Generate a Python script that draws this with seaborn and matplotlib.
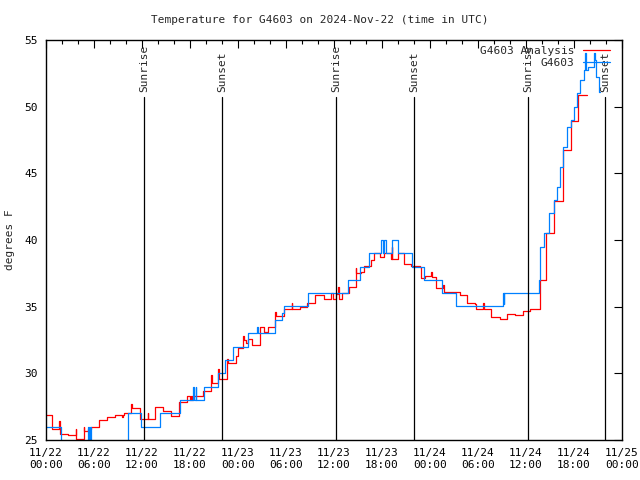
import pandas as pd
import matplotlib
matplotlib.use('Agg')
import matplotlib.pyplot as plt
import matplotlib.dates as mdates
import seaborn as sns

# Start of the period (UTC)
start = pd.Timestamp('2024-11-22 00:00')

# Analysis series: hours after start, temperature (deg F)
analysis_hours = [0.0, 0.75, 1.6, 1.7, 1.75, 2.75, 3.7, 3.8, 4.7, 4.8, 5.3, 5.6, 6.1,
                  6.67, 7.67, 8.67, 9.55, 9.65, 9.75, 10.65, 10.75, 11.75, 12.7, 12.8,
                  13.6, 14.67, 15.67, 16.67, 17.67, 18.0, 18.1, 18.3, 18.4, 19.67, 20.67,
                  20.75, 21.5, 21.6, 22.6, 22.7, 23.7, 24.0, 24.6, 24.7, 25.0, 25.3, 25.8,
                  26.7, 26.8, 27.3, 27.7, 28.6, 28.7, 29.7, 30.7, 30.8, 31.8, 32.6, 33.6,
                  34.8, 35.6, 35.9, 36.2, 36.5, 36.6, 37.0, 37.9, 38.7, 38.8, 39.4, 39.7,
                  40.6, 41.0, 41.7, 42.3, 43.1, 43.2, 43.3, 44.0, 44.7, 45.6, 46.75, 46.85,
                  47.4, 48.1, 48.2, 48.7, 49.6, 49.7, 51.75, 52.6, 53.6, 53.7, 54.6, 54.7,
                  55.6, 56.7, 57.6, 58.6, 59.6, 60.5, 61.7, 62.5, 63.5, 64.6, 65.6, 66.5,
                  67.6]
analysis_temps = [26.9, 25.8, 26.4, 25.8, 25.45, 25.35, 25.8, 25.05, 26.0, 25.65, 25.8,
                  26.0, 25.95, 26.47, 26.75, 26.85, 26.7, 26.85, 27.05, 27.7, 27.37, 26.6,
                  27.0, 26.6, 27.45, 27.2, 26.8, 27.85, 28.3, 28.0, 28.3, 28.0, 28.3, 28.65,
                  29.9, 29.3, 30.3, 29.55, 31.1, 30.75, 31.3, 31.9, 32.8, 32.5, 32.3, 32.6,
                  32.1, 33.5, 33.45, 33.1, 33.45, 34.6, 34.3, 34.8, 35.3, 34.8, 34.95, 35.3,
                  35.9, 35.55, 36.0, 35.55, 35.95, 36.5, 35.55, 36.0, 36.5, 37.9, 37.55,
                  37.6, 38.07, 38.5, 39.0, 38.75, 39.0, 38.6, 39.5, 38.6, 39.0, 38.17,
                  38.07, 38.0, 37.17, 37.3, 37.6, 37.2, 36.4, 36.6, 36.07, 35.9, 35.25,
                  35.2, 34.8, 35.3, 34.85, 34.25, 34.05, 34.45, 34.37, 34.7, 34.8, 37.0,
                  40.5, 42.9, 46.75, 48.95, 50.9, 50.9]

# Station observations: hours after start, temperature (deg F)
obs_hours = [0.0, 1.9, 5.25, 5.4, 5.5, 5.6, 10.25, 11.9, 14.2, 16.8, 18.4, 18.5, 18.7,
             18.8, 19.7, 21.5, 22.4, 23.4, 25.3, 26.4, 26.5, 28.6, 29.5, 29.7, 32.8,
             37.8, 39.2, 40.4, 41.9, 42.1, 42.3, 42.5, 43.2, 44.0, 45.7, 47.2, 49.5,
             51.25, 57.1, 57.2, 57.3, 61.6, 61.8, 62.2, 62.9, 63.5, 63.9, 64.3, 64.6,
             65.1, 65.6, 66.0, 66.4, 66.75, 67.2, 67.4, 67.5, 67.8, 68.55, 68.65,
             68.8, 69.1, 69.3]
obs_temps = [25.95, 24.5, 25.95, 24.5, 25.95, 24.5, 27.0, 25.95, 27.0, 28.0, 29.0,
             28.0, 29.0, 28.0, 28.95, 30.0, 31.0, 32.0, 33.0, 33.5, 33.0, 34.0, 34.5,
             35.05, 36.0, 37.0, 38.0, 39.0, 40.0, 39.0, 40.0, 39.0, 40.0, 39.0, 38.0,
             37.0, 36.0, 35.05, 36.0, 35.2, 36.0, 37.0, 39.5, 40.5, 42.0, 43.0, 44.0,
             45.5, 47.0, 48.5, 49.0, 50.0, 51.0, 52.0, 52.75, 54.0, 52.75, 53.0, 54.0,
             53.5, 52.25, 51.1, 51.1]

# Sunrise / sunset marks, hours after start
sun_hours = [12.25, 22.0, 36.25, 46.0, 60.25, 69.9]
sun_labels = ['Sunrise', 'Sunset', 'Sunrise', 'Sunset', 'Sunrise', 'Sunset']

analysis_df = pd.DataFrame({'time': start + pd.to_timedelta(analysis_hours, unit='h'),
                            'temp': analysis_temps})
obs_df = pd.DataFrame({'time': start + pd.to_timedelta(obs_hours, unit='h'),
                       'temp': obs_temps})

sns.set_style('white')
plt.rcParams['font.family'] = ['DejaVu Sans Mono']

fig = plt.figure(figsize=(6.4, 4.8), dpi=100)
ax = fig.add_axes([46 / 640, 40 / 480, 576 / 640, 400 / 480])

sns.lineplot(data=analysis_df, x='time', y='temp', ax=ax, color='#ff0000',
             drawstyle='steps-post', estimator=None, linewidth=0.9,
             label='G4603 Analysis')
sns.lineplot(data=obs_df, x='time', y='temp', ax=ax, color='#0080ff',
             drawstyle='steps-post', estimator=None, linewidth=0.9,
             label='G4603')

# sunrise / sunset lines with labels
for h, lab in zip(sun_hours, sun_labels):
    t = start + pd.Timedelta(hours=h)
    ax.axvline(t, ymin=0, ymax=0.857, color='black', linewidth=0.9)
    ax.text(t, 51.1, lab, rotation=90, ha='center', va='bottom', fontsize=8)

ax.set_xlim(start, start + pd.Timedelta(hours=72))
ax.set_ylim(25, 55)
ax.set_yticks([25, 30, 35, 40, 45, 50, 55])
ax.xaxis.set_major_locator(mdates.HourLocator(byhour=[0, 6, 12, 18]))
ax.xaxis.set_minor_locator(mdates.HourLocator(interval=2))
ax.xaxis.set_major_formatter(mdates.DateFormatter('%m/%d\n%H:%M'))
ax.tick_params(which='both', direction='in', top=True, right=True, labelsize=8,
               colors='black', width=0.8)
ax.tick_params(which='major', length=6, pad=6)
ax.tick_params(which='minor', length=3)
for s in ax.spines.values():
    s.set_color('black')
    s.set_linewidth(1.0)

ax.set_xlabel('')
ax.set_ylabel('')
fig.text(10 / 640, 0.5, 'degrees F', rotation=90, ha='center', va='center', fontsize=8)
fig.text(0.5, 1 - 20 / 480, 'Temperature for G4603 on 2024-Nov-22 (time in UTC)',
         ha='center', va='center', fontsize=8)

leg = ax.legend(loc='upper right', bbox_to_anchor=(0.979, 0.985), frameon=False,
                markerfirst=False, fontsize=8, handlelength=2.4, borderaxespad=0,
                borderpad=0, labelspacing=0.2, handletextpad=0.8)

fig.savefig('out.png', dpi=100)
